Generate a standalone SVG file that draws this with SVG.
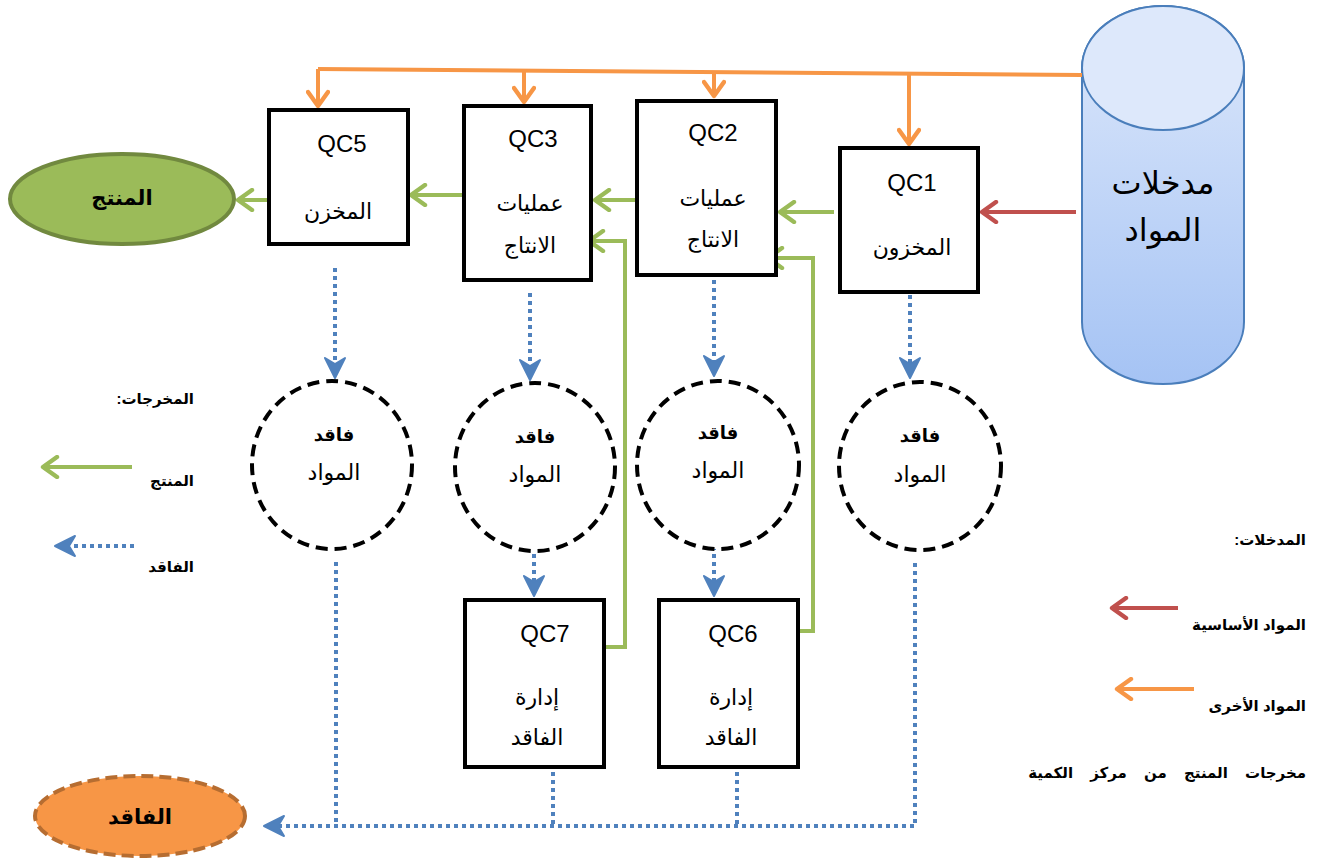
<svg xmlns="http://www.w3.org/2000/svg" width="1325" height="860" viewBox="0 0 1325 860">
  <defs>
    <linearGradient id="cylFill" x1="0" y1="0" x2="0" y2="1">
      <stop offset="0" stop-color="#dde8fb"/>
      <stop offset="1" stop-color="#a5c3f4"/>
    </linearGradient>
    <marker id="mGreen" viewBox="0 0 12 12" refX="10" refY="6" markerWidth="6" markerHeight="6" orient="auto" markerUnits="strokeWidth">
      <polyline points="3,1 10,6 3,11" fill="none" stroke="#9bbb59" stroke-width="2.2" stroke-linecap="round" stroke-linejoin="round"/>
    </marker>
    <marker id="mOrange" viewBox="0 0 12 12" refX="10" refY="6" markerWidth="6" markerHeight="6" orient="auto" markerUnits="strokeWidth">
      <polyline points="3,1 10,6 3,11" fill="none" stroke="#f79646" stroke-width="2.2" stroke-linecap="round" stroke-linejoin="round"/>
    </marker>
    <marker id="mRed" viewBox="0 0 12 12" refX="10" refY="6" markerWidth="6" markerHeight="6" orient="auto" markerUnits="strokeWidth">
      <polyline points="3,1 10,6 3,11" fill="none" stroke="#c0504d" stroke-width="2.2" stroke-linecap="round" stroke-linejoin="round"/>
    </marker>
    <marker id="mBlue" viewBox="0 0 12 12" refX="10" refY="6" markerWidth="6" markerHeight="6" orient="auto" markerUnits="strokeWidth">
      <path d="M1,1 L11,6 L1,11 L4,6 Z" fill="#4f81bd" stroke="#4f81bd" stroke-width="1" stroke-linejoin="round"/>
    </marker>
  </defs>
  <style>
    .box { fill: #ffffff; stroke: #000000; stroke-width: 4; }
    .loss { fill: #ffffff; stroke: #000000; stroke-width: 4; stroke-dasharray: 12 7; }
    .qc { font-family: "Liberation Sans", "DejaVu Sans", sans-serif; font-size: 24px; fill: #000; text-anchor: middle; }
    .ar { font-family: "Liberation Sans", "DejaVu Sans", sans-serif; font-size: 22px; fill: #000; text-anchor: middle; }
    .arb { font-family: "Liberation Sans", "DejaVu Sans", sans-serif; font-size: 18px; font-weight: bold; fill: #000; text-anchor: middle; }
    .big { font-size: 32px; }
    .term { font-size: 21px; }
    .leg { font-family: "Liberation Sans", "DejaVu Sans", sans-serif; font-size: 15px; font-weight: bold; fill: #000; direction: rtl; text-anchor: start; }
    .g { fill: none; stroke: #9bbb59; stroke-width: 4; }
    .o { fill: none; stroke: #f79646; stroke-width: 4; }
    .r { fill: none; stroke: #c0504d; stroke-width: 4; }
    .b { fill: none; stroke: #4f81bd; stroke-width: 4; stroke-dasharray: 4 4; }
  </style>

  <!-- material input store -->
  <g id="inputs">
    <path d="M1082,68 L1082,322 A81,62 0 0 0 1244,322 L1244,68 A81,62 0 0 0 1082,68 Z" fill="url(#cylFill)" stroke="#4a7ebb" stroke-width="2"/>
    <ellipse cx="1163" cy="68" rx="81" ry="62" fill="#dde8fb" stroke="#4a7ebb" stroke-width="2"/>
    <text class="ar big" x="1163" y="194">مدخلات</text>
    <text class="ar big" x="1163" y="241">المواد</text>
  </g>

  <!-- connectors -->
  <g id="connectors">
    <!-- other materials (orange) -->
    <path class="o" d="M1082,75 L318,69"/>
    <path class="o" d="M318,69 L318,106" marker-end="url(#mOrange)"/>
    <path class="o" d="M524,70 L524,102" marker-end="url(#mOrange)"/>
    <path class="o" d="M714,72 L714,96" marker-end="url(#mOrange)"/>
    <path class="o" d="M909,73 L909,144" marker-end="url(#mOrange)"/>
    <!-- basic materials (red) -->
    <path class="r" d="M1076,212 L982,212" marker-end="url(#mRed)"/>
    <!-- product flow (green) -->
    <path class="g" d="M834,212 L780,212" marker-end="url(#mGreen)"/>
    <path class="g" d="M636,200 L595,200" marker-end="url(#mGreen)"/>
    <path class="g" d="M464,195 L411,195" marker-end="url(#mGreen)"/>
    <path class="g" d="M268,200 L238,200" marker-end="url(#mGreen)"/>
    <path class="g" d="M798,631 L813,631 L813,258 L768,258" marker-end="url(#mGreen)"/>
    <path class="g" d="M604,647 L625,647 L625,241 L589,241" marker-end="url(#mGreen)"/>
    <!-- losses (blue dotted) -->
    <path class="b" d="M335,268 L335,376" marker-end="url(#mBlue)"/>
    <path class="b" d="M530,293 L530,378" marker-end="url(#mBlue)"/>
    <path class="b" d="M714,280 L714,374" marker-end="url(#mBlue)"/>
    <path class="b" d="M910,295 L910,376" marker-end="url(#mBlue)"/>
    <path class="b" d="M534,546 L534,594" marker-end="url(#mBlue)"/>
    <path class="b" d="M714,546 L714,594" marker-end="url(#mBlue)"/>
    <path class="b" d="M336,562 L336,826"/>
    <path class="b" d="M553,772 L553,826"/>
    <path class="b" d="M737,772 L737,826"/>
    <path class="b" d="M915,563 L915,826 L266,826" marker-end="url(#mBlue)"/>
  </g>

  <!-- QC boxes -->
  <g id="qc5">
    <rect class="box" x="269" y="110" width="139" height="134"/>
    <text class="qc" x="342" y="152">QC5</text>
    <text class="ar" x="338" y="219">المخزن</text>
  </g>
  <g id="qc3">
    <rect class="box" x="464" y="106" width="127" height="174"/>
    <text class="qc" x="533" y="147">QC3</text>
    <text class="ar" x="530" y="211">عمليات</text>
    <text class="ar" x="530" y="253">الانتاج</text>
  </g>
  <g id="qc2">
    <rect class="box" x="637" y="101" width="139" height="174"/>
    <text class="qc" x="713" y="141">QC2</text>
    <text class="ar" x="713" y="206">عمليات</text>
    <text class="ar" x="713" y="247">الانتاج</text>
  </g>
  <g id="qc1">
    <rect class="box" x="840" y="148" width="138" height="144"/>
    <text class="qc" x="912" y="191">QC1</text>
    <text class="ar" x="912" y="255">المخزون</text>
  </g>
  <g id="qc7">
    <rect class="box" x="465" y="600" width="139" height="167"/>
    <text class="qc" x="545" y="642">QC7</text>
    <text class="ar" x="537" y="705">إدارة</text>
    <text class="ar" x="537" y="745">الفاقد</text>
  </g>
  <g id="qc6">
    <rect class="box" x="659" y="600" width="139" height="167"/>
    <text class="qc" x="733" y="642">QC6</text>
    <text class="ar" x="731" y="705">إدارة</text>
    <text class="ar" x="731" y="745">الفاقد</text>
  </g>

  <!-- material loss circles -->
  <g id="loss1">
    <ellipse class="loss" cx="332" cy="465" rx="80" ry="84"/>
    <text class="arb" x="334" y="441">فاقد</text>
    <text class="ar" x="334" y="480">المواد</text>
  </g>
  <g id="loss2">
    <ellipse class="loss" cx="535" cy="467" rx="80" ry="84"/>
    <text class="arb" x="535" y="443">فاقد</text>
    <text class="ar" x="535" y="482">المواد</text>
  </g>
  <g id="loss3">
    <ellipse class="loss" cx="718" cy="465" rx="81" ry="84"/>
    <text class="arb" x="718" y="439">فاقد</text>
    <text class="ar" x="718" y="478">المواد</text>
  </g>
  <g id="loss4">
    <ellipse class="loss" cx="920" cy="466" rx="81" ry="84"/>
    <text class="arb" x="920" y="442">فاقد</text>
    <text class="ar" x="920" y="482">المواد</text>
  </g>

  <!-- product and loss terminals -->
  <g id="product">
    <ellipse cx="122" cy="199" rx="112" ry="45" fill="#9bbb59" stroke="#71893f" stroke-width="4"/>
    <text class="arb term" x="122" y="205">المنتج</text>
  </g>
  <g id="waste">
    <ellipse cx="140" cy="816" rx="105" ry="40" fill="#f79646" stroke="#b66d31" stroke-width="4" stroke-dasharray="12 6"/>
    <text class="arb term" x="140" y="824">الفاقد</text>
  </g>

  <!-- legend: outputs -->
  <g id="legend-outputs">
    <text class="leg" x="194" y="404">المخرجات:</text>
    <path class="g" d="M132,467 L43,467" marker-end="url(#mGreen)"/>
    <text class="leg" x="194" y="486">المنتج</text>
    <path class="b" d="M134,546 L57,546" marker-end="url(#mBlue)"/>
    <text class="leg" x="194" y="572">الفاقد</text>
  </g>

  <!-- legend: inputs -->
  <g id="legend-inputs">
    <text class="leg" x="1306" y="545">المدخلات:</text>
    <path class="r" d="M1178,608 L1112,608" marker-end="url(#mRed)"/>
    <text class="leg" x="1306" y="630">المواد الأساسية</text>
    <path class="o" d="M1194,689 L1117,689" marker-end="url(#mOrange)"/>
    <text class="leg" x="1306" y="711">المواد الأخرى</text>
    <text class="leg" x="1306" y="778" word-spacing="13">مخرجات المنتج من مركز الكمية</text>
  </g>
</svg>
